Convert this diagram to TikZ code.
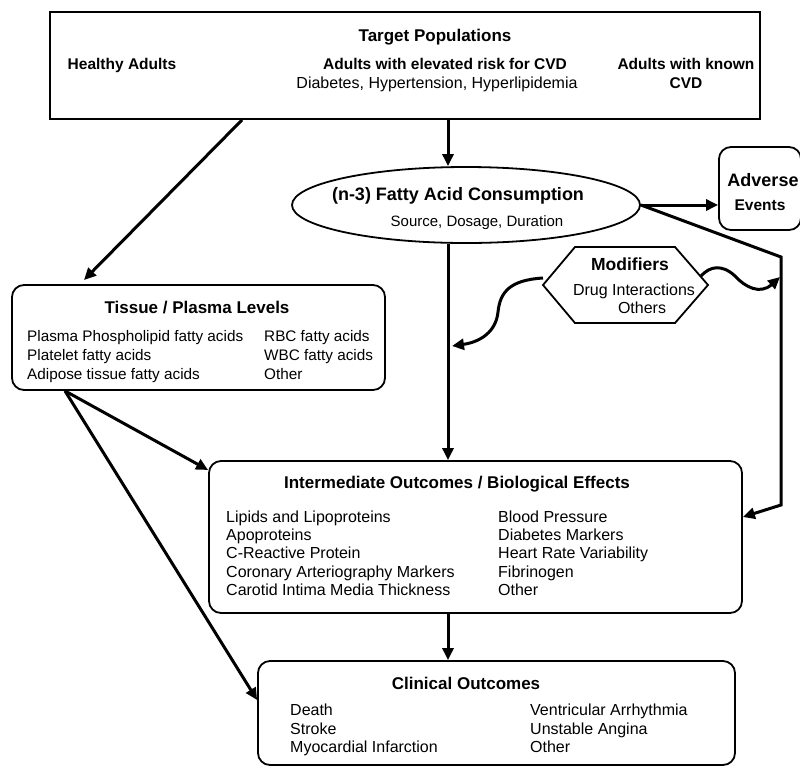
\documentclass[tikz,border=0pt]{standalone}
\usepackage{fontspec}
\setmainfont{Liberation Sans}
\usetikzlibrary{shapes.geometric,arrows.meta}
\begin{document}
\begin{tikzpicture}[x=1pt,y=-1pt,
 frame/.style={draw,line width=1.8pt,inner sep=0pt},
 rbox/.style={frame,rounded corners=12pt},
 conn/.style={line width=3pt,-{Triangle[length=12pt,width=11pt]}},
 ttl/.style={inner sep=0pt,anchor=base,font=\fontsize{17}{19}\selectfont\bfseries},
 sub/.style={inner sep=0pt,anchor=base,font=\fontsize{15.5}{18}\selectfont\bfseries},
 txt/.style={inner sep=0pt,anchor=base,font=\fontsize{16}{18}\selectfont},
 lt/.style={txt,anchor=base west},
 lts/.style={lt,font=\fontsize{15.3}{18}\selectfont}]
\useasboundingbox (0,0) rectangle (800,769);
% boxes
\node[frame,minimum width=710pt,minimum height=107pt] (top) at (405,65.5) {};
\node[frame,ellipse,minimum width=348pt,minimum height=76pt] (fa) at (466,205) {};
\node[rbox,minimum width=82pt,minimum height=83pt] (adv) at (760,188.5) {};
\node[rbox,minimum width=373pt,minimum height=105pt] (tis) at (198.5,337.5) {};
\node[rbox,minimum width=533pt,minimum height=152pt] (inter) at (475.5,537) {};
\node[rbox,minimum width=477pt,minimum height=104pt] (clin) at (496.5,713) {};
\draw[frame,line join=miter] (543,285) coordinate (hexL) -- (575,247) -- (675,247) -- (708,285) -- (675,323) -- (575,323) -- cycle;
\coordinate (hexLw) at (543,278);
\coordinate (hexRw) at (701,276);
% texts: top
\node[ttl] (tp) at (435,41) {Target Populations};
\node[sub] (ha) at (122,69) {Healthy Adults};
\node[sub] (ae) at (445,69) {Adults with elevated risk for CVD};
\node[txt] (dh) at (437,88) {Diabetes, Hypertension, Hyperlipidemia};
\node[sub] (ak) at (686,69) {Adults with known};
\node[sub] (cv) at (686,88) {CVD};
% ellipse
\node[inner sep=0pt,anchor=base,font=\fontsize{18}{20}\selectfont\bfseries] (fat) at (458,200) {(n-3) Fatty Acid Consumption};
\node[inner sep=0pt,anchor=base,font=\fontsize{15}{17}\selectfont] (sdd) at (477,226) {Source, Dosage, Duration};
% adverse
\node[inner sep=0pt,anchor=base,font=\fontsize{18}{20}\selectfont\bfseries] (adv1) at (763,186) {Adverse};
\node[inner sep=0pt,anchor=base,font=\fontsize{15.5}{17}\selectfont\bfseries] (adv2) at (760,210) {Events};
% modifiers
\node[inner sep=0pt,anchor=base,font=\fontsize{17.5}{19}\selectfont\bfseries] (mod) at (630,270) {Modifiers};
\node[txt] (di) at (634,295) {Drug Interactions};
\node[txt] (ot) at (642,313) {Others};
% tissue
\node[ttl] (tist) at (197,313) {Tissue / Plasma Levels};
\node[lts] at (27,341) {Plasma Phospholipid fatty acids};
\node[lts] at (27,360) {Platelet fatty acids};
\node[lts] at (27,379) {Adipose tissue fatty acids};
\node[lts] at (264,341) {RBC fatty acids};
\node[lts] at (264,360) {WBC fatty acids};
\node[lts] at (264,379) {Other};
% intermediate
\node[ttl] (intt) at (457,488) {Intermediate Outcomes / Biological Effects};
\node[lt] at (226,522) {Lipids and Lipoproteins};
\node[lt] at (226,540) {Apoproteins};
\node[lt] at (226,558) {C-Reactive Protein};
\node[lt] at (226,577) {Coronary Arteriography Markers};
\node[lt] at (226,595) {Carotid Intima Media Thickness};
\node[lt] at (498,522) {Blood Pressure};
\node[lt] at (498,540) {Diabetes Markers};
\node[lt] at (498,558) {Heart Rate Variability};
\node[lt] at (498,577) {Fibrinogen};
\node[lt] at (498,595) {Other};
% clinical
\node[ttl] (clint) at (466,689) {Clinical Outcomes};
\node[lt] at (290,715) {Death};
\node[lt] at (290,734) {Stroke};
\node[lt] at (290,752) {Myocardial Infarction};
\node[lt] at (530,715) {Ventricular Arrhythmia};
\node[lt] at (530,734) {Unstable Angina};
\node[lt] at (530,752) {Other};
% helper coordinates
\coordinate (vx) at (448,0);
\coordinate (tx) at (242,0);
\coordinate (tt) at (84,280);
\coordinate (xa) at (65,0);
\coordinate (ya) at (0,470);
\coordinate (yb) at (0,700);
\coordinate (yc) at (0,517);
\coordinate (rc) at (781,257);
\coordinate (rb) at (781,505);
% connectors
\draw[conn] (top.south -| vx) -- (fa.north -| vx);
\draw[conn] (top.south -| tx) -- (tt);
\draw[conn] (fa.south -| vx) -- (inter.north -| vx);
\draw[conn] (inter.south -| vx) -- (clin.north -| vx);
\draw[conn] (tis.south -| xa) -- (inter.west |- ya);
\draw[conn] (tis.south -| xa) -- (clin.west |- yb);
\draw[conn] (fa.east) -- (adv.west |- fa.east);
\draw[conn,line join=miter] (fa.east) -- (rc) -- (rb) -- (inter.east |- yc);
\draw[conn] (hexLw) .. controls (510,280) and (500,292) .. (498,312) .. controls (496,332) and (480,342) .. (452,346);
\draw[conn] (hexRw) .. controls (710,266) and (722,264) .. (735,276) .. controls (745,287) and (760,295) .. (780,277);
\end{tikzpicture}
\end{document}
